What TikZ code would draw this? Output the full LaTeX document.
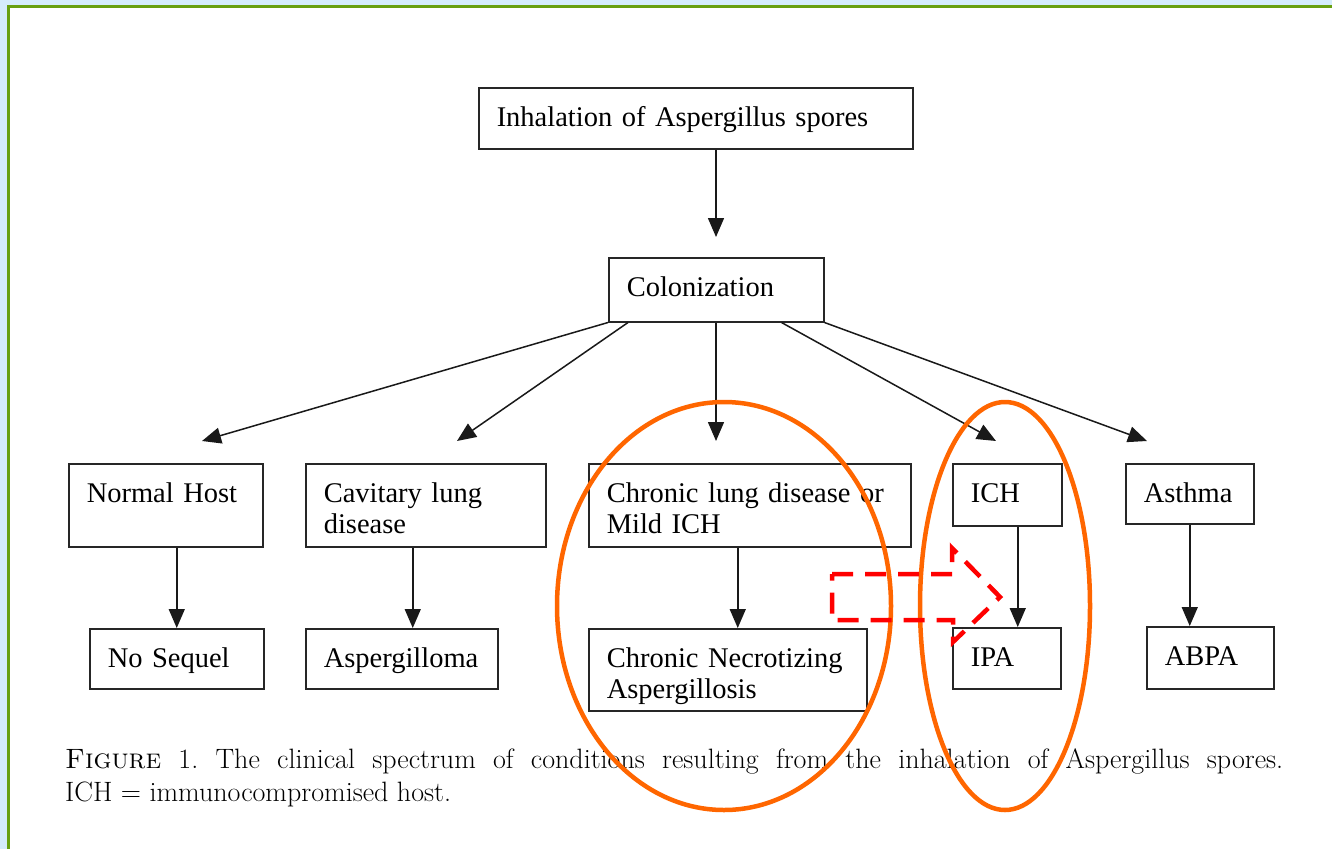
\documentclass[tikz,border=0pt]{standalone}
\usepackage{fontspec}
\usetikzlibrary{arrows.meta}
\newfontfamily\boxfont{Liberation Serif}
\definecolor{bgblue}{HTML}{D5ECFB}
\definecolor{frameg}{HTML}{68A010}
\definecolor{ovalor}{HTML}{FF6600}
\definecolor{dashred}{HTML}{FF0000}
\tikzset{
  box/.style={draw=black!85, line width=1.5pt, inner xsep=18pt, inner ysep=0pt,
    anchor=north west, align=left, text height=39pt,
    font=\boxfont\fontsize{28.5}{30.5}\selectfont},
  arr/.style={-{Triangle[length=19pt,width=16pt]}, line width=1.5pt, draw=black!90},
  oval/.style={draw=ovalor, line width=4.5pt},
  dasharrow/.style={draw=dashred, line width=4.5pt, dash pattern=on 21pt off 12pt},
  captext/.style={anchor=base west, inner sep=0pt, font=\fontsize{28}{33}\selectfont\frenchspacing}
}
\begin{document}
\begin{tikzpicture}[x=1pt,y=-1pt]
\useasboundingbox (0,0) rectangle (1332,849);
\fill[bgblue] (0,0) rectangle (1332,849);
\fill[white] (10,8) rectangle (1332,849);
\draw[frameg, line width=3pt] (8.5,849) -- (8.5,6.5) -- (1332,6.5);

% boxes
\node[box, text width=398pt, text depth=22pt] (inh) at (478,87) {Inhalation of Aspergillus spores};
\node[box, text width=179pt, text depth=25pt] (col) at (608,257) {Colonization};
\node[box, text width=158pt, text depth=44pt] (nh) at (68,463) {Normal Host};
\node[box, text width=204pt, text depth=44pt] (cav) at (305,463) {Cavitary lung\\disease};
\node[box, text width=286pt, text depth=44pt] (cld) at (588,463) {Chronic lung disease or\\Mild ICH};
\node[box, text width=73pt, text depth=23pt] (ich) at (952,463) {ICH};
\node[box, text width=92pt, text depth=21pt] (ast) at (1125,463) {Asthma};
\node[box, text width=138pt, text depth=21pt] (ns) at (89,628) {No Sequel};
\node[box, text width=156pt, text depth=21pt] (asp) at (305,628) {Aspergilloma};
\node[box, text width=242pt, text depth=43pt] (cna) at (588,628) {Chronic Necrotizing\\Aspergillosis};
\node[box, text width=72pt, text depth=22pt] (ipa) at (952,627) {IPA};
\node[box, text width=91pt, text depth=23pt] (abpa) at (1146,626) {ABPA};

% arrow tip points
\coordinate (t0) at (716,237);
\coordinate (t1) at (202,441);
\coordinate (t2) at (457,441);
\coordinate (t3) at (716,441);
\coordinate (t4) at (996,441);
\coordinate (t5) at (1147,441);

\draw[arr] (t0 |- inh.south) -- (t0);
\draw[arr] (col.south west) -- (t1);
\draw[arr] ([xshift=20pt]col.south west) -- (t2);
\draw[arr] (t3 |- col.south) -- (t3);
\draw[arr] ([xshift=-43pt]col.south east) -- (t4);
\draw[arr] (col.south east) -- (t5);

\draw[arr] (nh.south -| ns.north) -- (ns.north);
\draw[arr] ([xshift=-13pt]cav.south) -- ([xshift=11pt]asp.north);
\draw[arr] ([xshift=-12pt]cld.south) -- ([xshift=10pt]cna.north);
\draw[arr] ([xshift=10.5pt]ich.south) -- ([xshift=11pt]ipa.north);
\draw[arr] (ast.south) -- (ast.south |- abpa.north);

% caption
\node[captext] (cap1) at (65,768) {\makebox[1218pt][s]{\textsc{Figure} 1. The clinical spectrum of conditions resulting from the inhalation of Aspergillus spores.}};
\node[captext] (cap2) at (65,801) {ICH = immunocompromised host.};

% highlight ovals
\draw[oval] (724,606) ellipse [x radius=167pt, y radius=204pt];
\draw[oval] (1005,606) ellipse [x radius=85pt, y radius=204pt];

% dashed block arrow
\draw[dasharrow] (832,574) -- (952,574) -- (952,548) -- (1000,597) -- (953,642) -- (953,620) -- (832,620) -- cycle;
\end{tikzpicture}
\end{document}
